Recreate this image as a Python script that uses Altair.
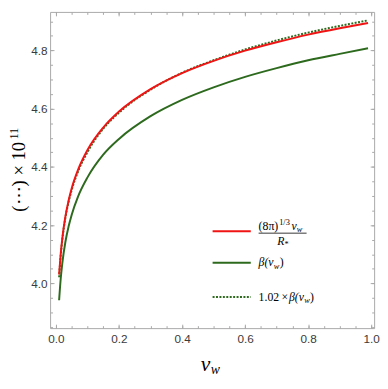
import altair as alt
import pandas as pd

# ---- data ----
v_w = [0.01, 0.015, 0.02, 0.03, 0.04, 0.05, 0.07, 0.1, 0.15, 0.2, 0.3, 0.4, 0.5, 0.6, 0.7, 0.8, 0.9, 0.99]
red_vals = [4.03, 4.10, 4.153, 4.23, 4.284, 4.327, 4.39, 4.458, 4.535, 4.59, 4.667, 4.722, 4.764, 4.799, 4.828, 4.854, 4.876, 4.894]
beta_vals = [3.942, 4.015, 4.068, 4.143, 4.195, 4.236, 4.298, 4.364, 4.442, 4.496, 4.574, 4.63, 4.673, 4.709, 4.739, 4.766, 4.788, 4.807]
beta102_vals = [4.021, 4.095, 4.149, 4.226, 4.279, 4.321, 4.384, 4.451, 4.531, 4.586, 4.665, 4.723, 4.766, 4.803, 4.834, 4.861, 4.884, 4.903]

x_major = [0.0, 0.2, 0.4, 0.6, 0.8, 1.0]
x_minor = [round(0.05 * i, 2) for i in range(21)]
y_major = [4.0, 4.2, 4.4, 4.6, 4.8]
y_minor = [round(3.85 + 0.05 * i, 2) for i in range(22)]

RED = "#f01414"
GREEN = "#2d6a1e"
FRAME = "#a8a8a8"
LABEL = "#3a3a3a"

W, H = 331, 323
xs = alt.Scale(domain=[-0.0186, 1.0093], nice=False, zero=False)
ys = alt.Scale(domain=[3.8464, 4.932], nice=False, zero=False)

df_red = pd.DataFrame({"v": v_w, "val": red_vals})
df_beta = pd.DataFrame({"v": v_w, "val": beta_vals})
df_b102 = pd.DataFrame({"v": v_w, "val": beta102_vals})


def tick_axis(orient, values, size):
    return alt.Axis(orient=orient, values=values, offset=-size, tickSize=size,
                    ticks=True, labels=False, domain=False, grid=False, title=None,
                    tickColor=FRAME, tickWidth=1)


def label_axis(orient, values, pad):
    return alt.Axis(orient=orient, values=values, format=".1f", ticks=False, tickSize=0,
                    domain=False, grid=False, title=None, labelPadding=pad,
                    labelFont="Liberation Sans", labelFontSize=12, labelColor=LABEL)


green_line = alt.Chart(df_beta).mark_line(color=GREEN, strokeWidth=2, interpolate="monotone").encode(
    x=alt.X("v:Q", scale=xs, axis=tick_axis("bottom", x_major, 4)),
    y=alt.Y("val:Q", scale=ys, axis=tick_axis("left", y_major, 4)),
)
dot_line = alt.Chart(df_b102).mark_line(color=GREEN, strokeWidth=2, strokeDash=[2, 1.5],
                                        interpolate="monotone").encode(
    x=alt.X("v:Q", scale=xs, axis=tick_axis("bottom", x_minor, 2.5)),
    y=alt.Y("val:Q", scale=ys, axis=tick_axis("left", y_minor, 2.5)),
)
red_line = alt.Chart(df_red).mark_line(color=RED, strokeWidth=2, interpolate="monotone").encode(
    x=alt.X("v:Q", scale=xs, axis=label_axis("bottom", x_major, 6)),
    y=alt.Y("val:Q", scale=ys, axis=label_axis("left", y_major, 3)),
)
ghost1 = alt.Chart(df_beta).mark_line(opacity=0).encode(
    x=alt.X("v:Q", scale=xs, axis=tick_axis("top", x_major, 4)),
    y=alt.Y("val:Q", scale=ys, axis=tick_axis("right", y_major, 4)),
)
ghost2 = alt.Chart(df_beta).mark_line(opacity=0).encode(
    x=alt.X("v:Q", scale=xs, axis=tick_axis("top", x_minor, 2.5)),
    y=alt.Y("val:Q", scale=ys, axis=tick_axis("right", y_minor, 2.5)),
)


def txt(s, x, y, size, style="normal", font="Liberation Serif", align="left",
        baseline="alphabetic", angle=0, color="black"):
    return alt.Chart(pd.DataFrame({"t": [s]})).mark_text(
        align=align, baseline=baseline, fontSize=size, font=font, fontStyle=style,
        angle=angle, color=color).encode(x=alt.value(x), y=alt.value(y), text="t:N")


def sample(y, color, dash=None):
    kw = dict(color=color, strokeWidth=2)
    if dash:
        kw["strokeDash"] = dash
    return alt.Chart(pd.DataFrame({"a": [0]})).mark_rule(**kw).encode(
        x=alt.value(166), x2=alt.value(205), y=alt.value(y))


frac_rule = alt.Chart(pd.DataFrame({"a": [0]})).mark_rule(color="black", strokeWidth=0.8).encode(
    x=alt.value(213), x2=alt.value(262), y=alt.value(226))

texts = [
    # axis titles
    txt("(⋯) × 10", -32, 204, 19, align="left", baseline="middle", angle=270),
    txt("11", -37, 130, 12, align="left", baseline="middle", angle=270),
    txt("v", 154, 367, 22, style="italic"),
    txt("w", 164, 370, 14, style="italic"),
    # legend entry 1
    txt("(8π)", 213, 222.5, 12),
    txt("1/3", 234, 217.5, 8.5),
    txt("v", 246.5, 222.5, 12, style="italic"),
    txt("w", 252, 225, 8.5, style="italic"),
    txt("R", 232, 238, 12, style="italic"),
    txt("*", 239.5, 240, 8.5),
    # legend entry 2
    txt("β(v", 213, 260, 12, style="italic"),
    txt("w", 228.5, 262.5, 8.5, style="italic"),
    txt(")", 234.5, 260, 12),
    # legend entry 3
    txt("1.02\u2009×\u2009", 213, 295, 12),
    txt("β(v", 244, 295, 12, style="italic"),
    txt("w", 259.5, 297.5, 8.5, style="italic"),
    txt(")", 265.5, 295, 12),
]

chart = alt.layer(
    ghost1, ghost2, green_line, dot_line, red_line,
    sample(224, RED), sample(256.3, GREEN), sample(291.3, GREEN, [2, 1.5]),
    frac_rule, *texts,
).resolve_axis(x="independent", y="independent").properties(
    width=W, height=H,
    autosize=alt.AutoSizeParams(type="none"),
    padding={"left": 43, "top": 0, "right": 6, "bottom": 50},
).configure_view(stroke=FRAME, strokeWidth=1)

chart.save("out.html", embed_options={"renderer": "svg", "actions": False})
